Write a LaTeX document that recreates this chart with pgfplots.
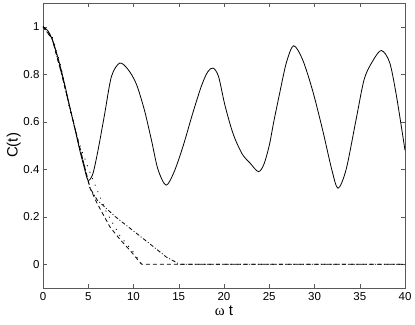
\documentclass[border=0pt]{standalone}
\usepackage{fontspec}
\setmainfont{Liberation Sans}
\newfontfamily\greekserif{Liberation Serif}
\usepackage{pgfplots}
\pgfplotsset{compat=1.18}
\begin{document}
\begin{tikzpicture}[x=1pt,y=1pt]
\begin{axis}[
  name=ax,
  scale only axis,
  width=362pt, height=285pt,
  xmin=0, xmax=40, ymin=-0.1, ymax=1.1,
  xtick={0,5,...,40},
  ytick={0,0.2,0.4,0.6,0.8,1},
  yticklabels={0,0.2,0.4,0.6,0.8,1},
  tick align=inside,
  major tick length=4pt,
  axis line style={gray!70!black, line width=0.5pt},
  tick style={gray!70!black},
  /pgf/number format/assume math mode=true,
  ticklabel style={font=\fontsize{11.5}{13}\selectfont},
  xticklabel style={yshift=-1pt},
  xlabel={{\greekserif ω} t},
  ylabel={C(t)},
  xlabel style={font=\fontsize{15}{17}\selectfont, yshift=2pt},
  ylabel style={font=\fontsize{15}{17}\selectfont, yshift=-4pt},
  every axis plot/.append style={black, line width=0.8pt},
]
\addplot[smooth, tension=0.5] coordinates {
(0,1)(0.5,0.985)(1,0.95)(1.5,0.89)(2,0.82)(2.5,0.74)(3,0.655)(3.5,0.575)(4,0.49)(4.5,0.415)(4.97,0.354)(5.5,0.38)(6.08,0.48)(6.8,0.63)(7.56,0.79)(8.47,0.847)(9.4,0.82)(10.3,0.76)(11.2,0.65)(12,0.52)(12.7,0.40)(13.6,0.333)(14.5,0.39)(15.5,0.50)(16.5,0.63)(17.5,0.75)(18.2,0.81)(18.8,0.826)(19.4,0.79)(20.1,0.67)(21,0.55)(22,0.465)(22.9,0.425)(23.8,0.39)(24.4,0.42)(25,0.5)(25.5,0.6)(26.15,0.72)(26.9,0.85)(27.7,0.92)(28.7,0.86)(29.8,0.73)(30.9,0.565)(31.9,0.40)(32.6,0.32)(33.5,0.40)(34.6,0.61)(35.5,0.78)(36.5,0.86)(37.4,0.90)(38.3,0.85)(39.05,0.71)(40,0.48)
};
\addplot[dashed, dash pattern=on 4pt off 3pt] coordinates {
(0,1)(1,0.95)(2,0.81)(3,0.655)(4,0.5)(4.5,0.425)(5.2,0.32)(6,0.255)(7,0.185)(7.4,0.157)(8.5,0.105)(9.6,0.059)(10.9,0)(40,0)
};
\addplot[dash pattern=on 4pt off 2pt on 1pt off 2pt] coordinates {
(0,1)(1,0.95)(2,0.81)(3,0.655)(4,0.5)(4.5,0.425)(5.2,0.32)(6,0.27)(6.6,0.249)(8,0.2)(10,0.14)(12,0.08)(13.6,0.031)(15.1,0)(40,0)
};
\addplot[dotted, dash pattern=on 1pt off 6pt] coordinates {
(0,1)(1,0.96)(1.5,0.9)(2,0.83)(2.9,0.66)(3.9,0.52)(4.9,0.415)(5.9,0.32)(7,0.22)(8.5,0.12)(10,0.05)(10.9,0)
};
\end{axis}
\pgfresetboundingbox
\path[use as bounding box] ([shift={(-43pt,-36pt)}]ax.south west) rectangle ([shift={(10pt,3pt)}]ax.north east);
\end{tikzpicture}
\end{document}
